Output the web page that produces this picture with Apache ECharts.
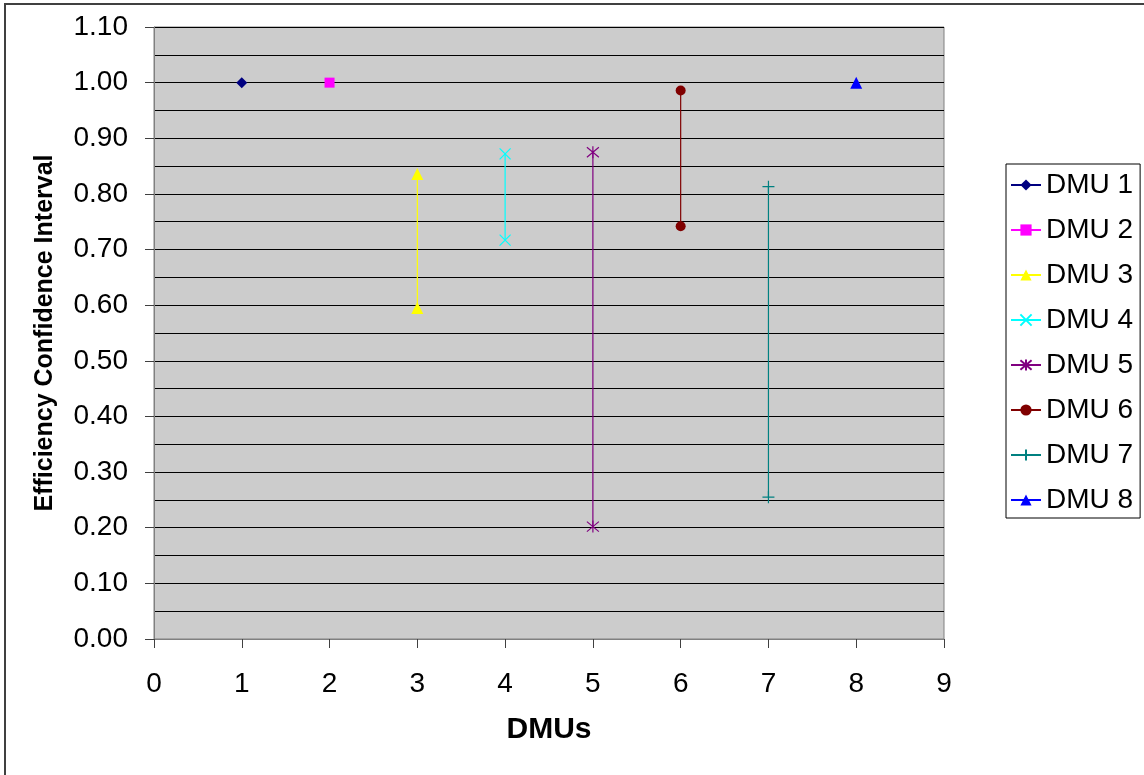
<!DOCTYPE html>
<html>
<head>
<meta charset="utf-8">
<script src="https://cdn.jsdelivr.net/npm/echarts@6/dist/echarts.min.js"></script>
<style>
html,body{margin:0;padding:0;background:#fff;}
#chart{width:1144px;height:775px;}
</style>
</head>
<body>
<div id="chart"></div>
<script>
// ---- Data ----
var seriesNames = ['DMU 1','DMU 2','DMU 3','DMU 4','DMU 5','DMU 6','DMU 7','DMU 8'];
var dmuX = [1, 2, 3, 4, 5, 6, 7, 8];
var dmu1 = [1.00];
var dmu2 = [1.00];
var dmu3 = [0.836, 0.595];
var dmu4 = [0.872, 0.717];
var dmu5 = [0.875, 0.202];
var dmu6 = [0.986, 0.742];
var dmu7 = [0.813, 0.255];
var dmu8 = [1.00];
var allValues = [dmu1, dmu2, dmu3, dmu4, dmu5, dmu6, dmu7, dmu8];
var yTickLabels = ['0.00','0.10','0.20','0.30','0.40','0.50','0.60','0.70','0.80','0.90','1.00','1.10'];
var xTickLabels = ['0','1','2','3','4','5','6','7','8','9'];

// ---- Styles ----
var colors = ['#000080','#FF00FF','#FFFF00','#00FFFF','#800080','#800000','#008080','#0000FF'];
var symbols = [
  'diamond',
  'rect',
  'triangle',
  'path://M0,0L10,10M10,0L0,10',
  'path://M0,0L10,10M10,0L0,10M5,-1L5,11',
  'circle',
  'path://M5,0L5,10M0,5L10,5',
  'triangle'
];
var sizes = [11, 10, 12, 11, 12, 10, 12, 12];
var strokeOnly = [false,false,false,true,true,false,true,false];
var FONT = 'Liberation Sans, Arial, sans-serif';

var series = seriesNames.map(function(name, i){
  var data = allValues[i].map(function(v){ return [dmuX[i], v]; });
  var itemStyle = strokeOnly[i]
    ? {color: 'rgba(0,0,0,0)', borderColor: colors[i], borderWidth: 1.2}
    : {color: colors[i], borderColor: colors[i], borderWidth: 0};
  return {
    name: name,
    type: 'line',
    data: data,
    symbol: symbols[i],
    symbolSize: sizes[i],
    showSymbol: true,
    lineStyle: {color: colors[i], width: 1.2},
    itemStyle: itemStyle,
    animation: false,
    z: 3
  };
});

var chart = echarts.init(document.getElementById('chart'), null, {renderer: 'canvas'});
chart.setOption({
  backgroundColor: '#ffffff',
  animation: false,
  textStyle: {fontFamily: FONT},
  graphic: [{
    type: 'rect',
    shape: {x: 5, y: 4, width: 1300, height: 1000},
    style: {fill: 'none', stroke: '#404040', lineWidth: 2},
    z: -10, silent: true
  }],
  grid: {
    left: 154, top: 27, width: 790, height: 612,
    show: true, backgroundColor: '#cccccc', borderColor: '#808080', borderWidth: 1
  },
  legend: {
    orient: 'vertical',
    left: 1006, top: 164,
    padding: [7, 7, 4, 4],
    itemWidth: 30, itemHeight: 14, itemGap: 17,
    borderColor: '#000000', borderWidth: 1,
    backgroundColor: '#ffffff',
    textStyle: {fontSize: 28, color: '#000', fontFamily: FONT},
    data: seriesNames
  },
  xAxis: {
    type: 'value', min: 0, max: 9, interval: 1,
    name: 'DMUs', nameLocation: 'middle', nameGap: 76,
    nameTextStyle: {fontSize: 30, fontWeight: 'bold', color: '#000', fontFamily: FONT},
    axisLine: {show: true, lineStyle: {color: '#808080', width: 1}},
    axisTick: {show: true, inside: false, length: 9, lineStyle: {color: '#404040'}},
    axisLabel: {fontSize: 28, color: '#000', margin: 31,
      formatter: function(v){ return xTickLabels[Math.round(v)]; }},
    splitLine: {show: false}
  },
  yAxis: {
    type: 'value', min: 0, max: 1.1, interval: 0.1,
    name: 'Efficiency Confidence Interval', nameLocation: 'middle', nameGap: 96, nameRotate: 90,
    nameTextStyle: {fontSize: 25, fontWeight: 'bold', color: '#000', fontFamily: FONT},
    axisLine: {show: true, lineStyle: {color: '#808080', width: 1}},
    axisTick: {show: true, inside: false, length: 9, lineStyle: {color: '#404040'}},
    axisLabel: {fontSize: 28, color: '#000', margin: 26,
      formatter: function(v){ return yTickLabels[Math.round(v * 10)]; }},
    splitLine: {show: true, lineStyle: {color: '#000', width: 1}},
    minorTick: {show: false, splitNumber: 2},
    minorSplitLine: {show: true, lineStyle: {color: '#000', width: 1}}
  },
  series: series
});
</script>
</body>
</html>
